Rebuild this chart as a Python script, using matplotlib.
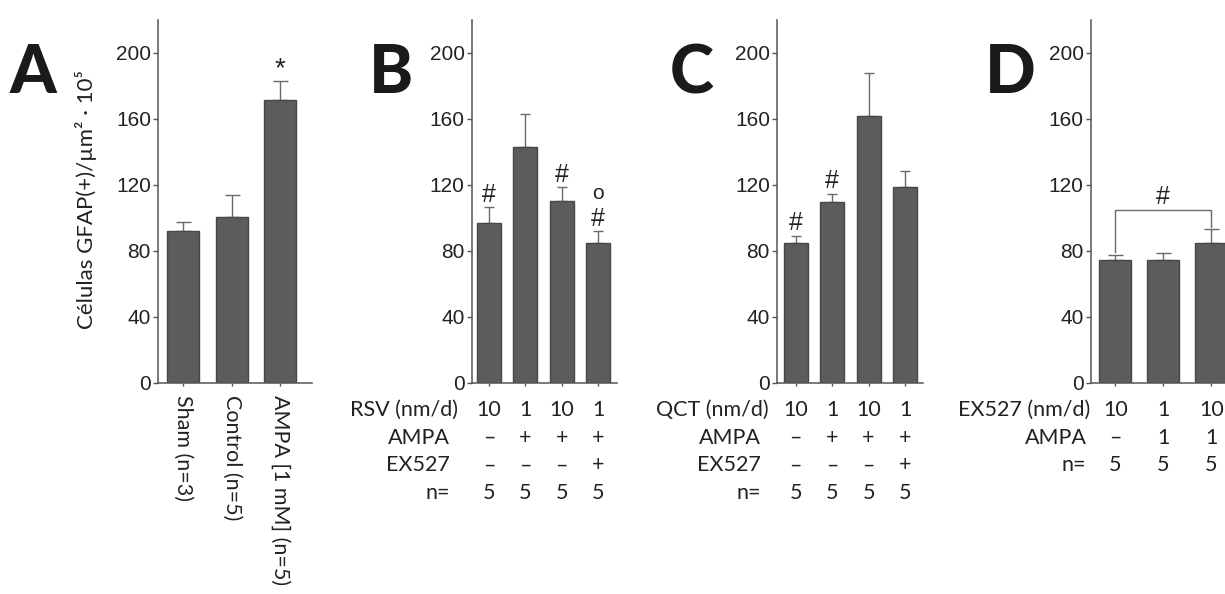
import matplotlib
matplotlib.use("Agg")
import matplotlib.pyplot as plt

# panel A
a_labels = ["Sham (n=3)", "Control (n=5)", "AMPA [1 mM] (n=5)"]
a_mean = [92.3, 100.6, 171.4]
a_top = [97.6, 114.0, 183.0]

# panel B
b_rows = ["RSV (nm/d)", "AMPA", "EX527", "n="]
b_cells = [["10", "1", "10", "1"],
           ["–", "+", "+", "+"],
           ["–", "–", "–", "+"],
           ["5", "5", "5", "5"]]
b_mean = [97.0, 143.0, 110.0, 84.5]
b_top = [106.5, 163.0, 118.5, 92.0]
b_marks = ["#", "", "#", "#"]

# panel C
c_rows = ["QCT (nm/d)", "AMPA", "EX527", "n="]
c_cells = [["10", "1", "10", "1"],
           ["–", "+", "+", "+"],
           ["–", "–", "–", "+"],
           ["5", "5", "5", "5"]]
c_mean = [85.0, 109.5, 161.7, 118.4]
c_top = [89.0, 114.3, 187.6, 128.5]
c_marks = ["#", "#", "", ""]

# panel D
d_rows = ["EX527 (nm/d)", "AMPA", "n="]
d_cells = [["10", "1", "10"],
           ["–", "1", "1"],
           ["5", "5", "5"]]
d_mean = [74.5, 74.5, 84.5]
d_top = [77.7, 78.8, 93.0]

W, H = 1225, 594
fig = plt.figure(figsize=(W / 100, H / 100), dpi=100)

BAR = "#5c5c5c"
EDGE = "#474747"
AX = "#555555"
TXT = "#222222"
ROWFS = 15.5


def make_axes(left_px, x0, x1, spacing_px):
    width_px = (x1 - x0) * spacing_px
    ax = fig.add_axes([left_px / W, (H - 383) / H, width_px / W, 363.3 / H])
    ax.set_xlim(x0, x1)
    ax.set_ylim(0, 220)
    for s in ["top", "right"]:
        ax.spines[s].set_visible(False)
    for s in ["left", "bottom"]:
        ax.spines[s].set_color(AX)
        ax.spines[s].set_linewidth(1.1)
    ax.set_yticks([0, 40, 80, 120, 160, 200])
    ax.tick_params(axis="y", length=3.6, width=1, color=AX, pad=1.5,
                   labelsize=15, labelcolor=TXT)
    for t in ax.get_yticklabels():
        t.set_fontfamily("Liberation Sans")
    ax.tick_params(axis="x", length=2.5, width=1, color=AX)
    ax.patch.set_alpha(0)
    return ax


def draw_bars(ax, mean, top, capsize):
    x = list(range(len(mean)))
    ax.bar(x, mean, width=0.66, color=BAR, edgecolor=EDGE, linewidth=1, zorder=2)
    err = [t - m for t, m in zip(top, mean)]
    ax.errorbar(x, mean, yerr=[[0] * len(mean), err], fmt="none",
                ecolor="#6a6a6a", elinewidth=1, capsize=capsize, capthick=1, zorder=1)
    ax.set_xticks(x)


def draw_rows(ax, rows, cells, label_x, first_label_x):
    tr = ax.get_xaxis_transform()
    for r, (name, vals) in enumerate(zip(rows, cells)):
        y = -0.0743 - 0.0762 * r
        lx = first_label_x if r == 0 else label_x
        ax.text(lx, y, name, transform=tr, ha="right", va="center",
                fontsize=ROWFS, family="Lato", color=TXT)
        for i, v in enumerate(vals):
            ax.text(i, y, v, transform=tr, ha="center", va="center",
                    fontsize=ROWFS, family="Lato", color=TXT)


# A
axA = make_axes(158, -0.52, 2.66, 48.5)
draw_bars(axA, a_mean, a_top, 5.4)
axA.set_xticklabels(a_labels, rotation=-90, fontsize=ROWFS, family="Lato", color=TXT)
axA.tick_params(axis="x", pad=6)
axA.text(2, a_top[2] + 7, "*", ha="center", va="center", fontsize=20,
         family="Liberation Sans", color=TXT)

# B
axB = make_axes(471.7, -0.48, 3.52, 36.3)
draw_bars(axB, b_mean, b_top, 3.6)
axB.set_xticklabels([])
draw_rows(axB, b_rows, b_cells, -1.07, -0.85)
for i, m in enumerate(b_marks):
    if m:
        axB.text(i, b_top[i] + 7.5, m, ha="center", va="center", fontsize=18,
                 family="Liberation Sans", color=TXT)
axB.text(3, b_top[3] + 22.5, "o", ha="center", va="center", fontsize=15,
         family="Liberation Sans", color=TXT)

# C
axC = make_axes(777, -0.51, 3.49, 36.5)
draw_bars(axC, c_mean, c_top, 3.6)
axC.set_xticklabels([])
draw_rows(axC, c_rows, c_cells, -0.95, -0.75)
for i, m in enumerate(c_marks):
    if m:
        axC.text(i, c_top[i] + 8, m, ha="center", va="center", fontsize=18,
                 family="Liberation Sans", color=TXT)

# D (runs past the right edge of the figure)
axD = make_axes(1090.7, -0.51, 3.5, 48)
draw_bars(axD, d_mean, d_top, 5.4)
axD.set_xticklabels([])
draw_rows(axD, d_rows, d_cells, -0.6, -0.52)
axD.plot([0, 0, 2, 2], [d_top[0] + 1.5, 104.8, 104.8, d_top[2] + 1.5],
         color="#6a6a6a", lw=1)
axD.text(1, 112.5, "#", ha="center", va="center", fontsize=18,
         family="Liberation Sans", color=TXT)

# y label
fig.text(86 / W, 1 - 200 / H, "Células GFAP(+)/µm² · 10⁵", rotation=90,
         ha="center", va="center", fontsize=16, family=["Lato", "DejaVu Sans"],
         color=TXT)

# panel letters
for letter, xp in zip("ABCD", [10, 369, 670, 985]):
    fig.text(xp / W, 1 - 93 / H, letter, ha="left", va="baseline",
             fontsize=48, family="Lato", weight="black", color="#1a1a1a")

fig.savefig("out.png", dpi=100)
